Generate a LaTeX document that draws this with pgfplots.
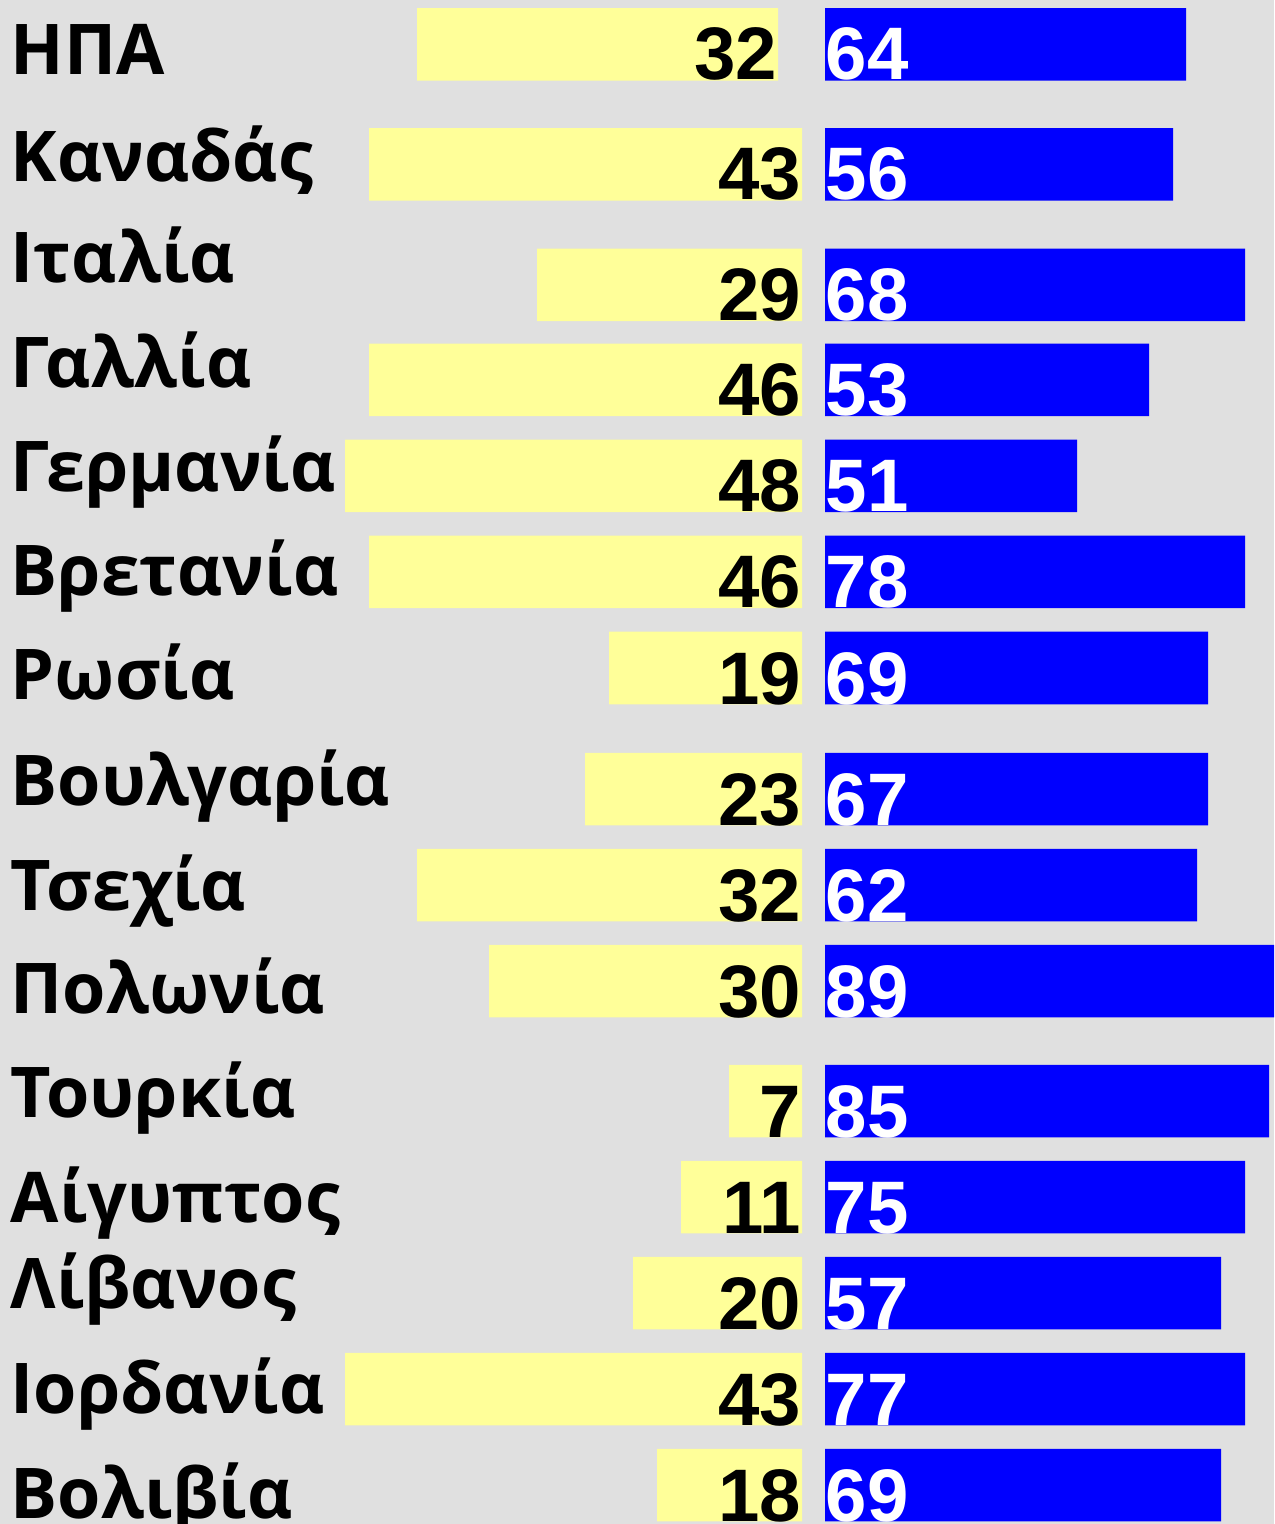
\documentclass[border=0pt]{standalone}
\usepackage{fontspec}
\setmainfont{Liberation Sans}
\newfontfamily\grfont{Open Sans}
\usepackage{pgfplots}
\usepackage{pgfplotstable}
\pgfplotsset{compat=1.18}
\definecolor{bg}{HTML}{E0E0E0}
\definecolor{yel}{HTML}{FFFF99}
\definecolor{blu}{HTML}{0000FF}
\tikzset{
  lab/.style={anchor=base west, inner sep=0pt, font=\grfont\fontsize{17.5}{17.5}\selectfont\bfseries},
  yv/.style={anchor=base east, inner sep=0pt, font=\fontsize{18.6}{18.6}\selectfont\bfseries},
  bv/.style={anchor=base west, inner sep=0pt, text=white, font=\fontsize{18.6}{18.6}\selectfont\bfseries},
}
\pgfplotsset{base/.style={
  width=318.5pt, height=381pt, scale only axis,
  xmin=0, xmax=1274, ymin=0, ymax=1524,
  y dir=reverse,
  axis line style={draw=none},
  xtick=\empty, ytick=\empty,
}}
\pgfplotstableread{
yy off ylen gap blen
44.5 417 361 47 361
164.5 369 433 23 348
285 537 265 23 420
380 369 433 23 324
476 345 457 23 252
572 369 433 23 420
668 609 193 23 383
789 585 217 23 383
885 417 385 23 372
981 489 313 23 449
1101 729 73 23 444
1197 681 121 23 420
1293 633 169 23 396
1389 345 457 23 420
1485 657 145 23 396
}\barsdata
\begin{document}
\begin{tikzpicture}
\begin{axis}[
  base, name=ax,
  xbar stacked, bar width=18.125pt,
  axis background/.style={fill=bg},
  clip=false,
]
\addplot[draw=none, fill=none] table[x=off, y=yy] {\barsdata};
\addplot[draw=none, fill=yel] table[x=ylen, y=yy] {\barsdata};
\addplot[draw=none, fill=none] table[x=gap, y=yy] {\barsdata};
\addplot[draw=none, fill=blu] table[x=blen, y=yy] {\barsdata};
\end{axis}
\begin{axis}[base, clip=false]
\node[lab] at (axis cs:10,75) {ΗΠΑ};
\node[lab] at (axis cs:10,182) {Καναδάς};
\node[lab] at (axis cs:10,283) {Ιταλία};
\node[lab] at (axis cs:10,388) {Γαλλία};
\node[lab] at (axis cs:10,492) {Γερμανία};
\node[lab] at (axis cs:10,596) {Βρετανία};
\node[lab] at (axis cs:10,700) {Ρωσία};
\node[lab] at (axis cs:10,805) {Βουλγαρία};
\node[lab] at (axis cs:10,910) {Τσεχία};
\node[lab] at (axis cs:10,1013) {Πολωνία};
\node[lab] at (axis cs:10,1117) {Τουρκία};
\node[lab] at (axis cs:10,1222) {Αίγυπτος};
\node[lab] at (axis cs:10,1308) {Λίβανος};
\node[lab] at (axis cs:10,1413) {Ιορδανία};
\node[lab] at (axis cs:10,1518) {Βολιβία};
\node[yv] at (axis cs:778,80) {32};
\node[yv] at (axis cs:802,200) {43};
\node[yv] at (axis cs:802,321) {29};
\node[yv] at (axis cs:802,416) {46};
\node[yv] at (axis cs:802,512) {48};
\node[yv] at (axis cs:802,608) {46};
\node[yv] at (axis cs:802,704) {19};
\node[yv] at (axis cs:802,825) {23};
\node[yv] at (axis cs:802,921) {32};
\node[yv] at (axis cs:802,1017) {30};
\node[yv] at (axis cs:802,1137) {7};
\node[yv] at (axis cs:802,1233) {11};
\node[yv] at (axis cs:802,1329) {20};
\node[yv] at (axis cs:802,1425) {43};
\node[yv] at (axis cs:802,1521) {18};
\node[bv] at (axis cs:825,80) {64};
\node[bv] at (axis cs:825,200) {56};
\node[bv] at (axis cs:825,321) {68};
\node[bv] at (axis cs:825,416) {53};
\node[bv] at (axis cs:825,512) {51};
\node[bv] at (axis cs:825,608) {78};
\node[bv] at (axis cs:825,704) {69};
\node[bv] at (axis cs:825,825) {67};
\node[bv] at (axis cs:825,921) {62};
\node[bv] at (axis cs:825,1017) {89};
\node[bv] at (axis cs:825,1137) {85};
\node[bv] at (axis cs:825,1233) {75};
\node[bv] at (axis cs:825,1329) {57};
\node[bv] at (axis cs:825,1425) {77};
\node[bv] at (axis cs:825,1521) {69};
\end{axis}
\pgfresetboundingbox
\useasboundingbox (ax.south west) rectangle (ax.north east);
\end{tikzpicture}
\end{document}
